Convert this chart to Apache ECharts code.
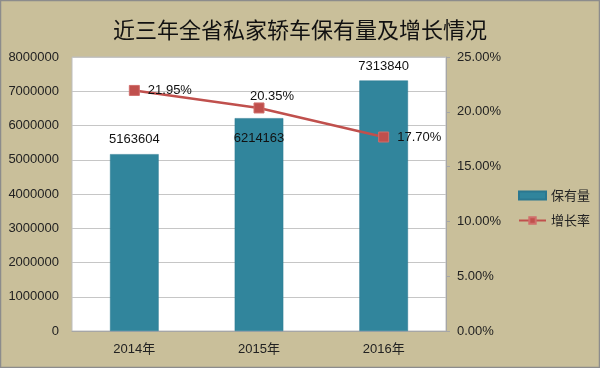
<!DOCTYPE html>
<html><head><meta charset="utf-8">
<script src="https://cdn.jsdelivr.net/npm/echarts@6/dist/echarts.min.js"></script>
<style>html,body{margin:0;padding:0;background:#C9BF9A}#c{width:600px;height:368px}</style>
</head><body><div id="c"></div>
<script>
const categories = ['2014年', '2015年', '2016年'];
const holdings = [5163604, 6214163, 7313840];
const growth = [0.2195, 0.2035, 0.1770];
const titleText = '近三年全省私家轿车保有量及增长情况';
const seriesNames = ['保有量', '增长率'];

const font = '"Liberation Sans", "Noto Sans CJK SC", sans-serif';
const chart = echarts.init(document.getElementById('c'));
const barData = holdings.map((v, i) => i === 1 ? {value: v, label: {position: 'insideTop', distance: 14}} : v);
const lineData = growth.map((v, i) => i === 1 ? {value: v, label: {position: 'top', distance: 0, offset: [13, 0]}} : v);
chart.setOption({
  backgroundColor: '#C9BF9A',
  animation: false,
  textStyle: {fontFamily: font},
  title: {text: titleText, left: 'center', top: 14, textStyle: {fontFamily: '"Noto Sans CJK SC", sans-serif', fontSize: 22, fontWeight: 'normal', color: '#111'}},
  graphic: [{type: 'rect', shape: {x: 0.5, y: 0.5, width: 599, height: 367}, style: {fill: 'none', stroke: '#8c8c8c', lineWidth: 1.5}, z: 100}],
  legend: {orient: 'vertical', left: 513, top: 184, itemGap: 12, itemWidth: 27, itemHeight: 8,
    textStyle: {fontFamily: '"Noto Sans CJK SC", sans-serif', fontSize: 13, color: '#222'},
    data: [{name: seriesNames[0], icon: 'rect'}, {name: seriesNames[1]}]},
  grid: {left: 72, right: 154, top: 57, bottom: 37, show: true, backgroundColor: '#fff', borderColor: '#bdbdbd', borderWidth: 1},
  xAxis: {type: 'category', data: categories, axisTick: {show: false},
    axisLine: {lineStyle: {color: '#a6a6a6'}},
    axisLabel: {color: '#222', fontSize: 13, margin: 12}},
  yAxis: [
    {type: 'value', min: 0, max: 8000000, interval: 1000000,
      axisLine: {show: false}, axisTick: {show: false},
      splitLine: {lineStyle: {color: '#c6c6c6'}},
      axisLabel: {color: '#222', fontSize: 13, margin: 13, formatter: v => String(v)}},
    {type: 'value', min: 0, max: 0.25, interval: 0.05, position: 'right',
      axisLine: {show: true, lineStyle: {color: '#a6a6a6'}},
      axisTick: {show: true, length: 4, lineStyle: {color: '#a6a6a6'}},
      splitLine: {show: false},
      axisLabel: {color: '#222', fontSize: 13, margin: 11, formatter: v => (v * 100).toFixed(2) + '%'}}
  ],
  series: [
    {name: seriesNames[0], type: 'bar', data: barData, barWidth: '39%',
      itemStyle: {color: '#31859C', borderColor: '#2b7890', borderWidth: 0.5},
      label: {show: true, position: 'top', distance: 8, color: '#111', fontSize: 13}},
    {name: seriesNames[1], type: 'line', yAxisIndex: 1, data: lineData,
      symbol: 'rect', symbolSize: 10,
      lineStyle: {color: '#C0504D', width: 2.5},
      itemStyle: {color: '#C0504D', borderColor: '#d06e6b', borderWidth: 1},
      label: {show: true, position: 'right', distance: 8, color: '#111', fontSize: 13,
        formatter: p => (p.value * 100).toFixed(2) + '%'}}
  ]
});
</script></body></html>
